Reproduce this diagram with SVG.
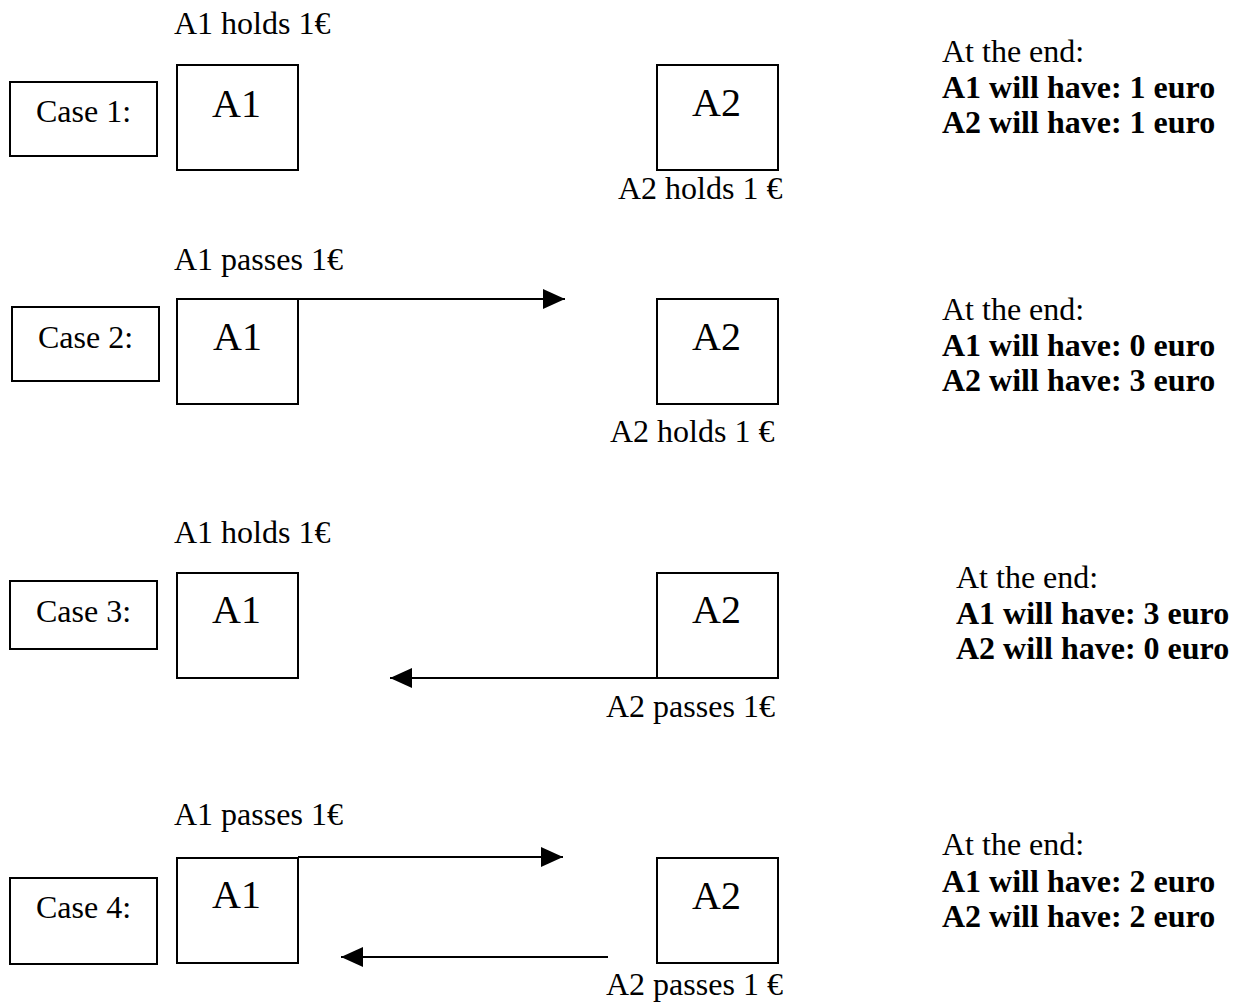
<svg xmlns="http://www.w3.org/2000/svg" width="1234" height="1002" viewBox="0 0 1234 1002">
<defs>
<marker id="ah" markerUnits="userSpaceOnUse" markerWidth="22" markerHeight="20" refX="22" refY="10" orient="auto">
<path d="M0,0 L22,10 L0,20 Z" fill="#000"/>
</marker>
<style>
.box{fill:#fff;stroke:#000;stroke-width:2}
.t{font-family:"Liberation Serif","Times New Roman",serif;font-size:32px;fill:#000}
.big{font-family:"Liberation Serif","Times New Roman",serif;font-size:40px;fill:#000}
.b{font-weight:bold}
.c{fill:none;stroke:#000;stroke-width:2}
</style>
</defs>
<rect width="1234" height="1002" fill="#fff"/>

<g id="case1">
<g id="case1-label"><rect class="box" x="10" y="82" width="147" height="74"/><text class="t" x="36" y="122">Case 1:</text></g>
<g id="case1-A1"><rect class="box" x="177" y="65" width="121" height="105"/><text class="big" x="212" y="117">A1</text></g>
<g id="case1-A2"><rect class="box" x="657" y="65" width="121" height="105"/><text class="big" x="692" y="116">A2</text></g>
<text class="t" x="174" y="34">A1 holds 1€</text>
<text class="t" x="618" y="199">A2 holds 1 €</text>
<g id="case1-result"><text class="t" x="942" y="62">At the end:</text><text class="t b" x="942" y="98">A1 will have: 1 euro</text><text class="t b" x="942" y="133">A2 will have: 1 euro</text></g>
</g>

<g id="case2">
<g id="case2-label"><rect class="box" x="12" y="307" width="147" height="74"/><text class="t" x="38" y="348">Case 2:</text></g>
<g id="case2-A1"><rect class="box" x="177" y="299" width="121" height="105"/><text class="big" x="213" y="350">A1</text></g>
<g id="case2-A2"><rect class="box" x="657" y="299" width="121" height="105"/><text class="big" x="692" y="350">A2</text></g>
<text class="t" x="174" y="270">A1 passes 1€</text>
<text class="t" x="610" y="442">A2 holds 1 €</text>
<g id="case2-result"><text class="t" x="942" y="320">At the end:</text><text class="t b" x="942" y="356">A1 will have: 0 euro</text><text class="t b" x="942" y="391">A2 will have: 3 euro</text></g>
</g>

<g id="case3">
<g id="case3-label"><rect class="box" x="10" y="581" width="147" height="68"/><text class="t" x="36" y="622">Case 3:</text></g>
<g id="case3-A1"><rect class="box" x="177" y="573" width="121" height="105"/><text class="big" x="212" y="623">A1</text></g>
<g id="case3-A2"><rect class="box" x="657" y="573" width="121" height="105"/><text class="big" x="692" y="623">A2</text></g>
<text class="t" x="174" y="543">A1 holds 1€</text>
<text class="t" x="606" y="717">A2 passes 1€</text>
<g id="case3-result"><text class="t" x="956" y="588">At the end:</text><text class="t b" x="956" y="624">A1 will have: 3 euro</text><text class="t b" x="956" y="659">A2 will have: 0 euro</text></g>
</g>

<g id="case4">
<g id="case4-label"><rect class="box" x="10" y="878" width="147" height="86"/><text class="t" x="36" y="918">Case 4:</text></g>
<g id="case4-A1"><rect class="box" x="177" y="858" width="121" height="105"/><text class="big" x="212" y="908">A1</text></g>
<g id="case4-A2"><rect class="box" x="657" y="858" width="121" height="105"/><text class="big" x="692" y="909">A2</text></g>
<text class="t" x="174" y="825">A1 passes 1€</text>
<text class="t" x="606" y="995">A2 passes 1 €</text>
<g id="case4-result"><text class="t" x="942" y="855">At the end:</text><text class="t b" x="942" y="892">A1 will have: 2 euro</text><text class="t b" x="942" y="927">A2 will have: 2 euro</text></g>
</g>

<g id="connectors">
<line class="c" x1="298" y1="299" x2="565" y2="299" marker-end="url(#ah)"/>
<line class="c" x1="657" y1="678" x2="390" y2="678" marker-end="url(#ah)"/>
<line class="c" x1="298" y1="857" x2="563" y2="857" marker-end="url(#ah)"/>
<line class="c" x1="608" y1="957" x2="341" y2="957" marker-end="url(#ah)"/>
</g>
</svg>
